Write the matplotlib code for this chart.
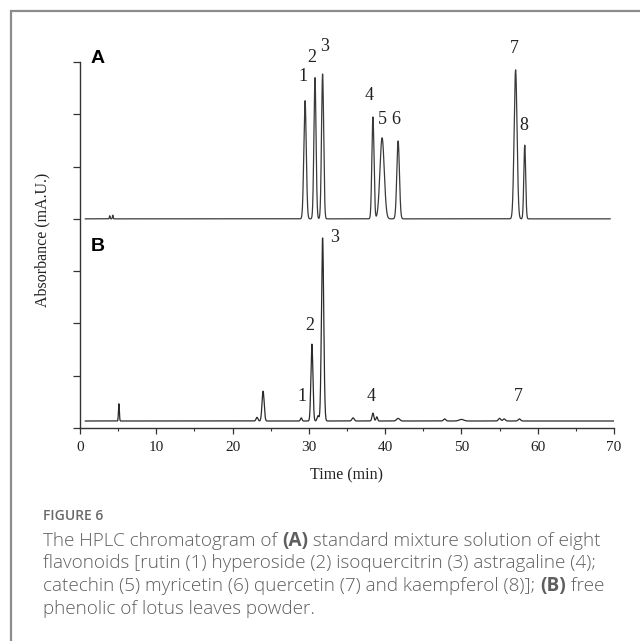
import numpy as np
import matplotlib.pyplot as plt
from matplotlib.patches import Rectangle

# Peak tables (time [min], height [tick units], width sigma [min])
time_a = [3.9, 4.3, 29.5, 30.8, 31.8, 38.4, 39.6, 41.7, 57.1, 58.3]
height_a = [0.06, 0.07, 2.26, 2.70, 2.77, 1.95, 1.55, 1.49, 2.85, 1.41]
sigma_a = [0.05, 0.05, 0.16, 0.14, 0.14, 0.14, 0.28, 0.17, 0.19, 0.12]
label_a = ["", "", "1", "2", "3", "4", "5", "6", "7", "8"]
offset_a = 4.0

time_b = [5.1, 23.2, 24.0, 29.0, 30.4, 31.2, 31.8, 35.8, 38.4, 38.9, 41.7, 47.8, 50.0, 55.0, 55.6, 57.6]
height_b = [0.33, 0.07, 0.57, 0.06, 1.47, 0.10, 3.50, 0.06, 0.15, 0.08, 0.05, 0.04, 0.03, 0.05, 0.04, 0.04]
sigma_b = [0.06, 0.12, 0.14, 0.10, 0.13, 0.12, 0.15, 0.15, 0.12, 0.10, 0.20, 0.15, 0.30, 0.15, 0.15, 0.15]
label_b = ["", "", "", "1", "2", "", "3", "", "4", "", "", "", "", "", "", "7"]
offset_b = 0.134

# label offsets from peak apex, in pixels (dx, dy)
lab_off_a = {"1": (-2, 16), "2": (-3, 12), "3": (2, 19), "4": (-4, 13),
             "5": (0, 10), "6": (-2, 13), "7": (-1, 13), "8": (-1, 11)}
lab_off_b = {"1": (1, 13), "2": (-2, 10), "3": (12, 0), "4": (-2, 8), "7": (-1, 14)}

caption_lines = [
    [("The HPLC chromatogram of ", False), ("(A)", True), (" standard mixture solution of eight", False)],
    [("flavonoids [rutin (1) hyperoside (2) isoquercitrin (3) astragaline (4);", False)],
    [("catechin (5) myricetin (6) quercetin (7) and kaempferol (8)]; ", False), ("(B)", True), (" free", False)],
    [("phenolic of lotus leaves powder.", False)],
]

W, H = 640, 641
fig = plt.figure(figsize=(W / 100, H / 100), dpi=100)
fig.patch.set_facecolor("white")

# outer frame
fig.patches.append(Rectangle((11 / W, -0.2), 1.5, (H - 11) / H + 0.2, transform=fig.transFigure,
                             fill=False, edgecolor="#8c8c8c", linewidth=1.6))

ax = fig.add_axes([80 / W, (H - 428) / H, 534 / W, 366 / H])


def trace(t, times, heights, sigmas, base):
    y = np.full_like(t, base)
    for t0, h, s in zip(times, heights, sigmas):
        y += h * np.exp(-0.5 * ((t - t0) / s) ** 2)
    return y


ta = np.arange(0.7, 69.5, 0.005)
tb = np.arange(0.7, 70.4, 0.005)
ax.plot(ta, trace(ta, time_a, height_a, sigma_a, offset_a), color="#3a3a3a", lw=0.9)
ax.plot(tb, trace(tb, time_b, height_b, sigma_b, offset_b), color="#2a2a2a", lw=0.9)

serif = "Liberation Serif"
for t0, h, lab in zip(time_a, height_a, label_a):
    if lab:
        dx, dy = lab_off_a[lab]
        ax.annotate(lab, (t0, offset_a + h), xytext=(dx * 0.72, dy * 0.72), textcoords="offset points",
                    ha="center", va="bottom" if dy else "center", fontsize=13, family=serif, color="#222222")
for t0, h, lab in zip(time_b, height_b, label_b):
    if lab:
        dx, dy = lab_off_b[lab]
        ax.annotate(lab, (t0, offset_b + h), xytext=(dx * 0.72, dy * 0.72), textcoords="offset points",
                    ha="center", va="bottom" if dy else "center", fontsize=13, family=serif, color="#222222")

ax.set_xlim(0, 70)
ax.set_ylim(0, 7)
ax.set_xticks(np.arange(0, 71, 10))
ax.set_xticks(np.arange(5, 70, 10), minor=True)
ax.set_yticks(np.arange(0, 8, 1))
ax.set_yticklabels([])
for s in ("top", "right"):
    ax.spines[s].set_visible(False)
for s in ("left", "bottom"):
    ax.spines[s].set_color("#333333")
    ax.spines[s].set_linewidth(1.0)
ax.tick_params(axis="x", which="major", direction="out", length=4.5, width=0.9, color="#333333",
               pad=5, labelsize=11)
ax.tick_params(axis="x", which="minor", direction="out", length=2.5, width=0.8, color="#333333")
ax.tick_params(axis="y", direction="out", length=5, width=0.9, color="#333333")
for lbl in ax.get_xticklabels():
    lbl.set_fontfamily(serif)
    lbl.set_color("#222222")

ax.text(0.02, 1.01, "A", transform=ax.transAxes, fontsize=14, fontweight="bold",
        family="Liberation Sans", va="center", ha="left", clip_on=False)
ax.text(0.02, 0.495, "B", transform=ax.transAxes, fontsize=14, fontweight="bold",
        family="Liberation Sans", va="center", ha="left")

fig.text(347 / W, 1 - 475 / H, "Time (min)", ha="center", va="center", fontsize=11.5,
         family=serif, color="#222222")
fig.text(42 / W, 1 - 240 / H, "Absorbance (mA.U.)", ha="center", va="center", rotation=90,
         fontsize=11.5, family=serif, color="#222222")

# caption
fig.text(43 / W, 1 - 520 / H, "FIGURE 6", ha="left", va="baseline", fontsize=10,
         family="Open Sans", fontweight="semibold", color="#6a6a6a")
renderer = fig.canvas.get_renderer()
for i, segs in enumerate(caption_lines):
    x = 43 / W
    y = 1 - (546 + 22.5 * i) / H
    for s, bold in segs:
        t = fig.text(x, y, s, ha="left", va="baseline", fontsize=13.6, family="Open Sans",
                     fontweight="bold" if bold else "light", color="#5e5e5e")
        x += t.get_window_extent(renderer).width / W

fig.savefig("out.png", dpi=100)
